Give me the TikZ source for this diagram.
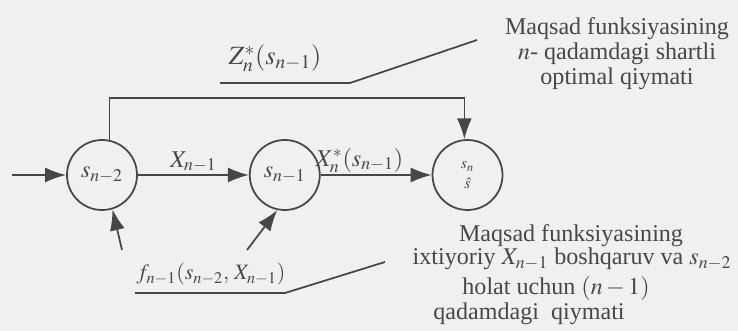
\documentclass[tikz,border=0pt]{standalone}
\usepackage{mathptmx}
\usepackage{fontspec}
\setmainfont{Liberation Serif}
\usetikzlibrary{arrows.meta, positioning}

\begin{document}
\begin{tikzpicture}[
    every node/.style={font=\fontsize{13.7}{14}\selectfont, inner sep=1pt},
    state/.style={circle, draw, minimum size=1.4cm, inner sep=0pt},
    arr/.style={-{Latex[length=4.2mm, width=3mm]}},
    note/.style={anchor=base, inner sep=0pt},
    line width=1pt, color=black!72]
    % Paper and size of the picture
    \fill[black!6] (0,0) rectangle (14.76,6.62);
    \useasboundingbox (0,0) rectangle (14.76,6.62);

    % Define the states
    \node[state] (sA) at (2.04,3.12) {$s_{n-2}$};
    \node[state, right=2.22cm of sA] (sB) {$s_{n-1}$};
    \node[state, right=2.22cm of sB, align=center,
          font=\fontsize{9}{11}\selectfont] (sC) {$s_n$\\$\hat{s}$};

    % Free ends of the inputs
    \coordinate (in) at (0.24,3.12);
    \coordinate (uA) at (2.44,1.62);
    \coordinate (uB) at (4.94,1.62);
    \coordinate (topY) at (0,4.66);

    % Draw the transitions
    \draw[arr] (in) -- (sA);
    \draw[arr] (sA) -- node[above] {$X_{n-1}$} (sB);
    \draw[arr] (sB) -- node[above, pos=0.35] {$X_n^*(s_{n-1})$} (sC);
    \draw[arr] (uA) -- (sA.287);
    \draw[arr] (uB) -- (sB.258);
    \draw[arr] (sA.78) -- (sA.78 |- topY) -| (sC.95);

    % Upper label with its leader
    \node[anchor=base, font=\fontsize{15}{17}\selectfont] (zlab) at (5.5,5.32) {$Z_n^*(s_{n-1})$};
    \coordinate (zA) at (4.4,4.96);
    \coordinate (zB) at (7.0,4.96);
    \coordinate (zC) at (9.54,5.82);
    \draw (zA) -- (zB) -- (zC);
    \node[anchor=north, align=center, inner sep=0pt] (topnote) at (12.34,6.28)
        {Maqsad funksiyasining\\$n$- qadamdagi shartli\\optimal qiymati};

    % Lower label with its leader
    \node[anchor=base, font=\fontsize{12.5}{14}\selectfont] (flab) at (4.22,1.02) {$f_{n-1}(s_{n-2},\, X_{n-1})$};
    \coordinate (fA) at (2.7,0.76);
    \coordinate (fB) at (5.7,0.76);
    \coordinate (fC) at (7.7,1.38);
    \draw (fA) -- (fB) -- (fC);
    \node[note] (botA) at (11.42,1.78) {Maqsad funksiyasining};
    \node[note] (botB) at (11.44,1.32) {ixtiyoriy\ $X_{n-1}$ boshqaruv va\ $s_{n-2}$};
    \node[note] (botC) at (11.12,0.72) {holat uchun $(n-1)$};
    \node[note] (botD) at (10.58,0.22) {qadamdagi\ \ qiymati};
\end{tikzpicture}
\end{document}
